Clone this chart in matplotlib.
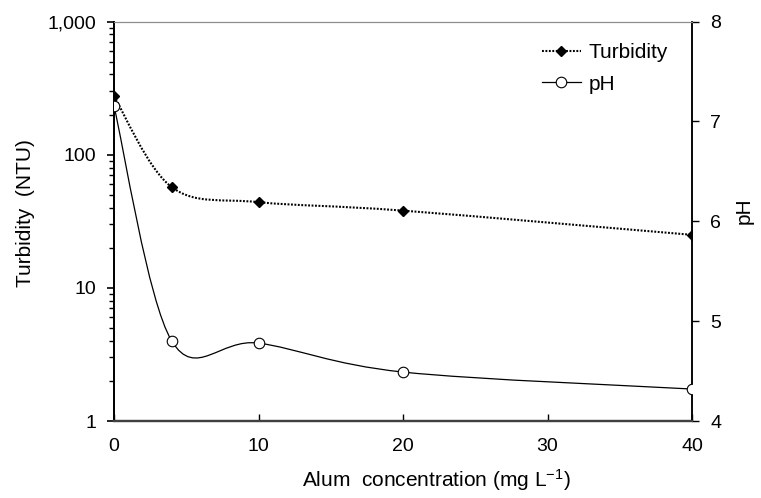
import numpy as np
import matplotlib
matplotlib.use("Agg")
import matplotlib.pyplot as plt
from matplotlib.path import Path
from matplotlib.patches import PathPatch
from matplotlib.lines import Line2D
from matplotlib.ticker import FixedLocator, FixedFormatter, LogLocator, NullFormatter

plt.rcParams['font.family'] = ['Liberation Sans', 'DejaVu Sans']
plt.rcParams['mathtext.fontset'] = 'custom'
plt.rcParams['mathtext.rm'] = 'Liberation Sans'
plt.rcParams['mathtext.it'] = 'Liberation Sans'
plt.rcParams['mathtext.default'] = 'regular'

# ---- data ----
conc = [0, 4, 10, 20, 40]
turbidity = [274, 57, 44, 38, 25]
ph = [7.15, 4.80, 4.78, 4.49, 4.32]

x_ticks = [0, 10, 20, 30, 40]
turb_ticks = [1, 10, 100, 1000]
turb_tick_labels = ["1", "10", "100", "1,000"]
ph_ticks = [4, 5, 6, 7, 8]


def smooth_path(xs, ys):
    """Catmull-Rom style Bezier path through the points (like Excel's smoothed line)."""
    pts = np.column_stack([np.asarray(xs, float), np.asarray(ys, float)])
    n = len(pts)
    verts = [pts[0]]
    codes = [Path.MOVETO]
    for i in range(n - 1):
        p0 = pts[max(i - 1, 0)]
        p1 = pts[i]
        p2 = pts[i + 1]
        p3 = pts[min(i + 2, n - 1)]
        c1 = p1 + (p2 - p0) / 6.0
        c2 = p2 - (p3 - p1) / 6.0
        verts += [c1, c2, p2]
        codes += [Path.CURVE4] * 3
    return np.array(verts), codes


W, H = 761, 498
fig = plt.figure(figsize=(W / 100, H / 100), dpi=100)
ax = fig.add_axes([114 / W, 1 - 421 / H, (692 - 114) / W, (421 - 21.5) / H])
ax2 = ax.twinx()

FS = 14
LFS = 15
DOT = (0, (0.9, 0.75))

# turbidity (left, log)
ax.set_yscale('log')
ax.set_ylim(1, 1000)
ax.set_xlim(0, 40)
v, c = smooth_path(conc, np.log10(turbidity))
v[:, 1] = 10 ** v[:, 1]
ax.add_patch(PathPatch(Path(v, c), facecolor='none', edgecolor='black',
                       lw=1.5, linestyle=DOT, transform=ax.transData))
ax.plot(conc, turbidity, linestyle='none', marker='D', ms=5.6,
        mfc='black', mec='black', zorder=5)

# pH (right)
ax2.set_ylim(4, 8)
v2, c2 = smooth_path(conc, ph)
ax2.add_patch(PathPatch(Path(v2, c2), facecolor='none', edgecolor='black',
                        lw=0.9, transform=ax2.transData))
ax2.plot(conc, ph, linestyle='none', marker='o', ms=7.6,
         mfc='white', mec='black', mew=0.8, zorder=5)

# ticks
ax.xaxis.set_major_locator(FixedLocator(x_ticks))
ax.set_xticklabels([str(t) for t in x_ticks])
ax.yaxis.set_major_locator(FixedLocator(turb_ticks))
ax.yaxis.set_major_formatter(FixedFormatter(turb_tick_labels))
ax.yaxis.set_minor_locator(LogLocator(base=10, subs=np.arange(2, 10)))
ax.yaxis.set_minor_formatter(NullFormatter())
ax2.yaxis.set_major_locator(FixedLocator(ph_ticks))
ax2.set_yticklabels([str(t) for t in ph_ticks])

ax.tick_params(axis='x', direction='in', length=5, width=1, pad=12, labelsize=FS,
               top=False)
ax.tick_params(axis='y', which='major', direction='out', length=5, width=1.2,
               pad=8, labelsize=FS)
ax.tick_params(axis='y', which='minor', direction='out', length=3.5, width=1)
ax2.tick_params(axis='y', which='major', direction='out', length=5, width=1,
                pad=8, labelsize=FS)

# spines
for a in (ax, ax2):
    a.spines['top'].set_color('#8c8c8c')
    a.spines['top'].set_linewidth(0.8)
    a.spines['bottom'].set_color('#404040')
    a.spines['bottom'].set_linewidth(1.6)
    a.spines['left'].set_color('black')
    a.spines['left'].set_linewidth(1.3)
    a.spines['right'].set_color('black')
    a.spines['right'].set_linewidth(1.1)

ax.set_xlabel('Alum  concentration (mg L$^{\\mathregular{-1}}$)', fontsize=LFS)
ax.xaxis.set_label_coords((436 - 114) / 578, -(487 - 421) / 399.5)
ax.xaxis.label.set_va('baseline')
ax.set_ylabel('Turbidity  (NTU)', fontsize=LFS)
ax.yaxis.set_label_coords(-(114 - 35) / 578, (421 - 213) / 399.5)
ax2.set_ylabel('pH', fontsize=LFS, rotation=90)
ax2.yaxis.set_label_coords((735 - 114) / 578, (421 - 211) / 399.5)

handles = [
    Line2D([], [], color='black', lw=1.5, linestyle=DOT, marker='D',
           ms=5.6, mfc='black', mec='black'),
    Line2D([], [], color='black', lw=0.9, marker='o', ms=7.6, mfc='white',
           mec='black', mew=0.8),
]
ax2.legend(handles, ['Turbidity', 'pH'], loc='upper left',
           bbox_to_anchor=((542 - 114) / 578, (421 - 43) / 399.5),
           frameon=False, fontsize=LFS, borderpad=0, borderaxespad=0,
           handlelength=1.85, handletextpad=0.4, labelspacing=0.6)

fig.savefig('out.png', dpi=100)
